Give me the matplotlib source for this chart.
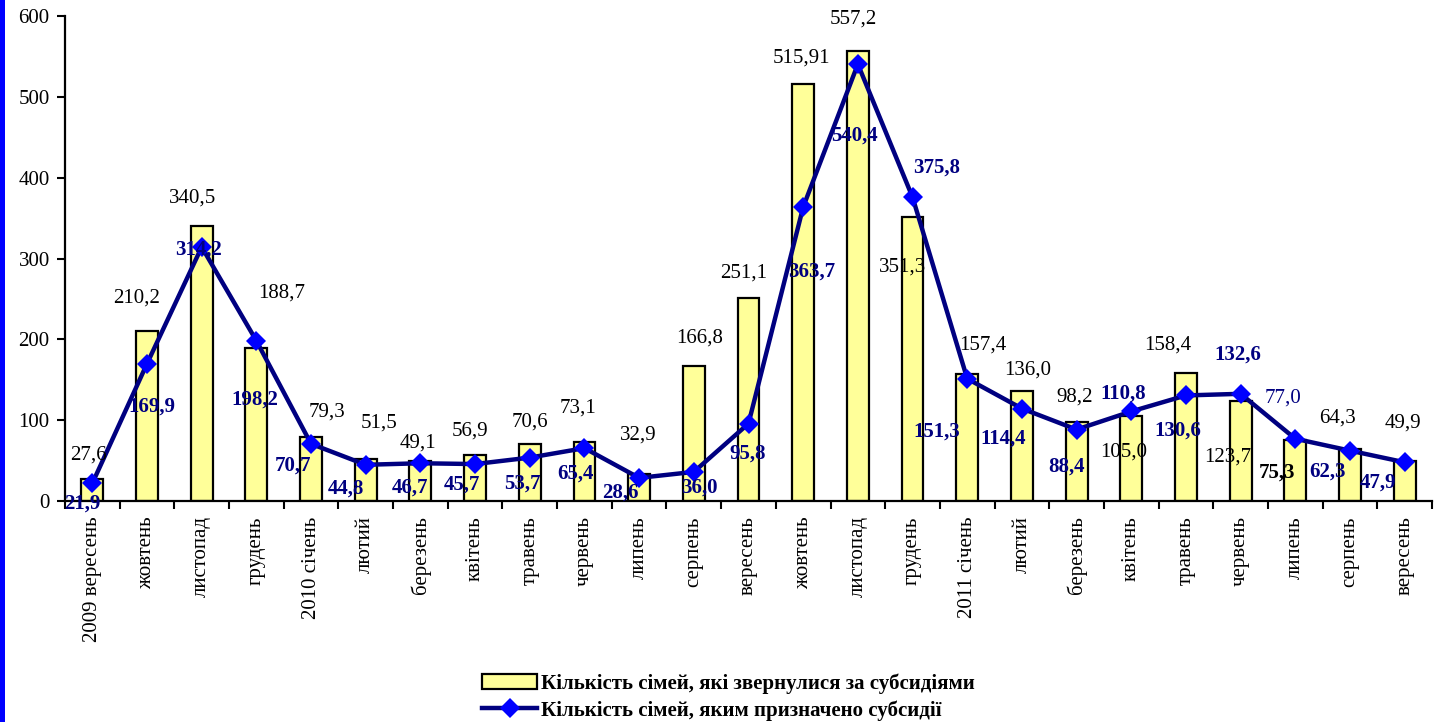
import matplotlib
matplotlib.use('Agg')
import matplotlib.pyplot as plt
from matplotlib.patches import Rectangle, Patch
from matplotlib.lines import Line2D

plt.rcParams['font.family'] = ['Liberation Serif', 'DejaVu Serif']

# Categories (months)
months = ['2009 вересень', 'жовтень', 'листопад', 'грудень', '2010 січень',
          'лютий', 'березень', 'квітень', 'травень', 'червень', 'липень',
          'серпень', 'вересень', 'жовтень', 'листопад', 'грудень',
          '2011 січень', 'лютий', 'березень', 'квітень', 'травень',
          'червень', 'липень', 'серпень', 'вересень']

# Families that applied for subsidies
applied = [27.6, 210.2, 340.5, 188.7, 79.3, 51.5, 49.1, 56.9, 70.6, 73.1,
           32.9, 166.8, 251.1, 515.91, 557.2, 351.3, 157.4, 136.0, 98.2,
           105.0, 158.4, 123.7, 75.3, 64.3, 49.9]
applied_labels = ['27,6', '210,2', '340,5', '188,7', '79,3', '51,5', '49,1',
                  '56,9', '70,6', '73,1', '32,9', '166,8', '251,1', '515,91',
                  '557,2', '351,3', '157,4', '136,0', '98,2', '105,0',
                  '158,4', '123,7', '75,3', '64,3', '49,9']

# Families granted subsidies
granted = [21.9, 169.9, 314.2, 198.2, 70.7, 44.8, 46.7, 45.7, 53.7, 65.4,
           28.6, 36.0, 95.8, 363.7, 540.4, 375.8, 151.3, 114.4, 88.4,
           110.8, 130.6, 132.6, 77.0, 62.3, 47.9]
granted_labels = ['21,9', '169,9', '314,2', '198,2', '70,7', '44,8', '46,7',
                  '45,7', '53,7', '65,4', '28,6', '36,0', '95,8', '363,7',
                  '540,4', '375,8', '151,3', '114,4', '88,4', '110,8',
                  '130,6', '132,6', '77,0', '62,3', '47,9']

legend_labels = ['Кількість сімей, які звернулися за субсидіями',
                 'Кількість сімей, яким призначено субсидії']

# label offsets in pixels (dx, dy), as placed in the original
applied_off = [(-4, 24), (-10, 33), (-9, 28), (25, 55), (16, 25), (13, 36),
               (-2, 18), (-5, 24), (0, 22), (-6, 34), (-1, 39), (6, 28),
               (-5, 25), (-2, 26), (-5, 32), (-10, -50), (16, 29), (6, 21),
               (-2, 25), (-8, -36), (-18, 28), (-13, -56), (-18, -32),
               (-12, 31), (-2, 38)]
granted_off = [(-10, -20), (5, -43), (-3, -3), (-2, -59), (-18, -22),
               (-20, -24), (-10, -24), (-13, -21), (-7, -26), (-9, -25),
               (-19, -15), (6, -16), (-1, -30), (9, -65), (-3, -71),
               (24, 30), (-30, -53), (-19, -30), (-10, -37), (-8, 18),
               (-8, -35), (-3, 39), (-12, 41), (-22, -21), (-27, -20)]

bar_color = '#FFFF99'
line_color = '#000080'
marker_color = '#0000FF'
fs = 15

fig = plt.figure(figsize=(14.37, 7.22), dpi=100)
ax = fig.add_axes([65 / 1437, 1 - 501 / 722, 1367 / 1437, 485 / 722])

x = list(range(len(months)))
ax.bar(x, applied, 0.4, color=bar_color, edgecolor='black', linewidth=1.6,
       zorder=2)
ax.plot(x, granted, color=line_color, linewidth=3.2, marker='D',
        markersize=10.5, markerfacecolor=marker_color,
        markeredgecolor=marker_color, markeredgewidth=0, zorder=3)

for i, (v, t) in enumerate(zip(applied, applied_labels)):
    bold = (i == 22)
    ax.annotate(t, (i, v), xytext=applied_off[i], textcoords='offset pixels',
                ha='center', va='center', fontsize=fs, color='black',
                fontweight='bold' if bold else 'normal', zorder=5)

for i, (v, t) in enumerate(zip(granted, granted_labels)):
    bold = (i != 22)
    ax.annotate(t, (i, v), xytext=granted_off[i], textcoords='offset pixels',
                ha='center', va='center', fontsize=fs, color=line_color,
                fontweight='bold' if bold else 'normal', zorder=5)

ax.set_ylim(0, 600)
ax.set_xlim(-0.5, len(months) - 0.5)
ax.set_yticks(range(0, 700, 100))
ax.tick_params(axis='y', labelsize=fs, length=6, width=1.5, pad=5)

ax.set_xticks([i - 0.5 for i in range(len(months) + 1)])
ax.set_xticklabels([])
ax.set_xticks(x, minor=True)
ax.set_xticklabels(months, minor=True, rotation=90, fontsize=fs, va='top')
ax.tick_params(axis='x', which='major', length=6, width=1.5)
ax.tick_params(axis='x', which='minor', length=0, pad=11)

for s in ['top', 'right']:
    ax.spines[s].set_visible(False)
for s in ['left', 'bottom']:
    ax.spines[s].set_linewidth(1.6)

handles = [Patch(facecolor=bar_color, edgecolor='black', linewidth=1.6),
           Line2D([], [], color=line_color, linewidth=3.2, marker='D',
                  markersize=10.5, markerfacecolor=marker_color,
                  markeredgewidth=0)]
fig.legend(handles, legend_labels, loc='center left',
           bbox_to_anchor=(472 / 1437, 1 - 697 / 722), frameon=False,
           prop={'weight': 'bold', 'size': fs}, handlelength=2.6,
           handletextpad=0.2, labelspacing=0.3, borderpad=0)

# blue strip at the left edge
fig.patches.append(Rectangle((0, 0), 5 / 1437, 1, transform=fig.transFigure,
                             facecolor='#0000FF', edgecolor='none'))

fig.savefig('out.png', dpi=100)
